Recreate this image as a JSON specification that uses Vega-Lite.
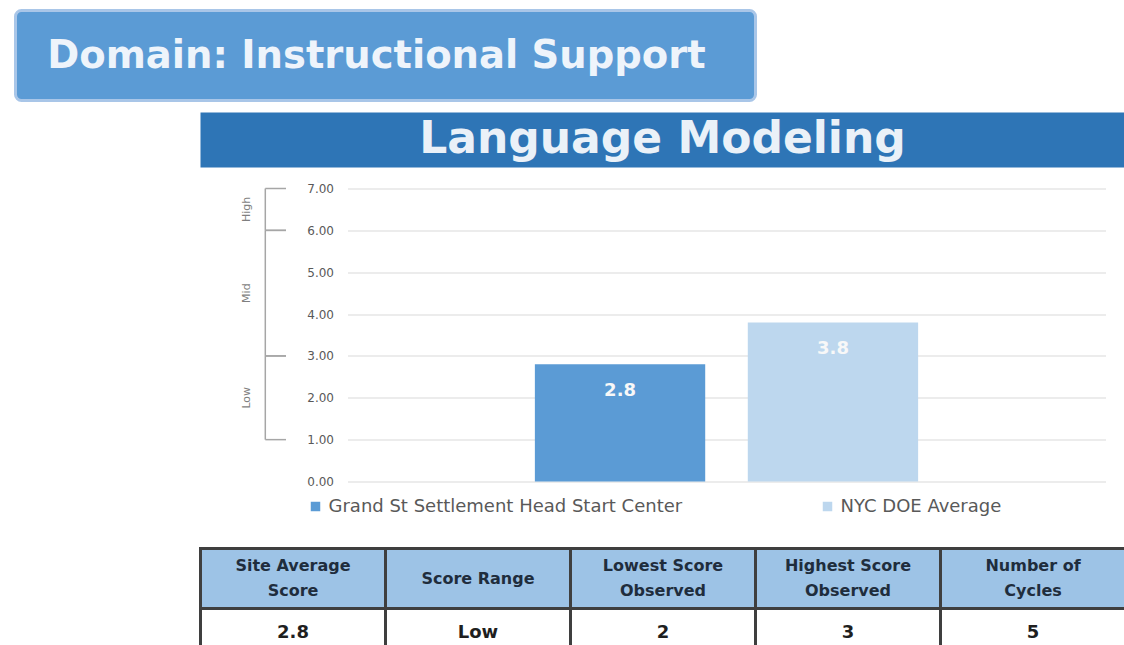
{
  "$schema": "https://vega.github.io/schema/vega-lite/v6.json",
  "padding": {"left": 13.5, "top": 8.5, "right": 0, "bottom": 0},
  "background": "white",
  "config": {"view": {"stroke": null}, "font": "DejaVu Sans"},
  "bounds": "flush",
  "spacing": 12,
  "vconcat": [
    {
      "width": 740,
      "height": 90,
      "view": {"fill": "#5b9bd5", "stroke": "#a9c6e8", "strokeWidth": 3, "cornerRadius": 6},
      "data": {"values": [{"t": "Domain: Instructional Support"}]},
      "mark": {"type": "text", "fontWeight": "bold", "fontSize": 38.5, "fill": "#eef4fb", "dx": -9, "baseline": "middle"},
      "encoding": {"text": {"field": "t"}}
    },
    {
      "bounds": "flush",
      "spacing": 10,
      "hconcat": [
        {
          "width": 175,
          "height": 10,
          "data": {"values": [{}]},
          "mark": {"type": "text"},
          "encoding": {"text": {"value": ""}}
        },
        {
          "bounds": "flush",
          "spacing": 21,
          "vconcat": [
            {
              "width": 924,
              "height": 55,
              "view": {"fill": "#2e75b6", "stroke": null},
              "data": {"values": [{"t": "Language Modeling"}]},
              "mark": {"type": "text", "fontWeight": "bold", "fontSize": 44, "fill": "#eaf1f8", "baseline": "middle"},
              "encoding": {"text": {"field": "t"}}
            },
            {
              "bounds": "flush",
              "spacing": 57,
              "hconcat": [
                {
                  "width": 90,
                  "height": 293,
                  "data": {"values": [
                    {"level": "Low", "lo": 1, "hi": 3, "mid": 2},
                    {"level": "Mid", "lo": 3, "hi": 6, "mid": 4.5},
                    {"level": "High", "lo": 6, "hi": 7, "mid": 6.5}
                  ]},
                  "layer": [
                    {
                      "mark": {"type": "rule", "color": "#a6a6a6", "strokeWidth": 1.5},
                      "encoding": {
                        "x": {"datum": 0.72, "type": "quantitative", "scale": {"domain": [0, 1]}, "axis": null},
                        "y": {"field": "lo", "type": "quantitative", "scale": {"domain": [0, 7]}, "axis": null},
                        "y2": {"field": "hi"}
                      }
                    },
                    {
                      "mark": {"type": "rule", "color": "#a6a6a6", "strokeWidth": 1.5},
                      "encoding": {
                        "x": {"datum": 0.72, "type": "quantitative", "scale": {"domain": [0, 1]}, "axis": null},
                        "x2": {"datum": 0.95},
                        "y": {"field": "lo", "type": "quantitative", "scale": {"domain": [0, 7]}, "axis": null}
                      }
                    },
                    {
                      "mark": {"type": "rule", "color": "#a6a6a6", "strokeWidth": 1.5},
                      "encoding": {
                        "x": {"datum": 0.72, "type": "quantitative", "scale": {"domain": [0, 1]}, "axis": null},
                        "x2": {"datum": 0.95},
                        "y": {"field": "hi", "type": "quantitative", "scale": {"domain": [0, 7]}, "axis": null}
                      }
                    },
                    {
                      "mark": {"type": "text", "angle": 270, "fontSize": 11, "fill": "#7f7f7f", "baseline": "middle", "align": "center"},
                      "encoding": {
                        "x": {"datum": 0.52, "type": "quantitative", "scale": {"domain": [0, 1]}, "axis": null},
                        "y": {"field": "mid", "type": "quantitative", "scale": {"domain": [0, 7]}, "axis": null},
                        "text": {"field": "level"}
                      }
                    }
                  ]
                },
                {
                  "width": 758,
                  "height": 293,
                  "data": {"values": [
                    {"series": "Grand St Settlement Head Start Center", "score": 2.8},
                    {"series": "NYC DOE Average", "score": 3.8}
                  ]},
                  "encoding": {
                    "x": {"field": "series", "type": "nominal", "sort": null, "scale": {"paddingInner": 0.2, "paddingOuter": 0.88}, "axis": null},
                    "y": {
                      "field": "score", "type": "quantitative",
                      "scale": {"domain": [0, 7]},
                      "axis": {"values": [0, 1, 2, 3, 4, 5, 6, 7], "format": ".2f", "grid": true, "gridColor": "#d9d9d9", "domain": false, "ticks": false, "labelPadding": 14, "labelFontSize": 12, "labelColor": "#595959", "title": null}
                    }
                  },
                  "layer": [
                    {
                      "mark": {"type": "bar"},
                      "encoding": {
                        "color": {
                          "field": "series", "type": "nominal", "sort": null,
                          "scale": {"range": ["#5b9bd5", "#bdd7ee"]},
                          "legend": {"orient": "none", "legendX": 291, "legendY": 487, "direction": "horizontal", "title": null, "symbolType": "square", "symbolSize": 90, "labelFontSize": 18, "labelColor": "#595959", "columnPadding": 136, "labelLimit": 600}
                        }
                      }
                    },
                    {
                      "mark": {"type": "text", "dy": 27, "baseline": "middle", "fill": "#f8f8f8", "fontWeight": "bold", "fontSize": 18},
                      "encoding": {"text": {"field": "score", "type": "quantitative", "format": ".1f"}}
                    }
                  ]
                }
              ]
            },
            {
              "width": 10,
              "height": 318,
              "data": {"values": [{}]},
              "mark": {"type": "text"},
              "encoding": {"text": {"value": ""}}
            },
            {
              "width": 925,
              "height": 120,
              "data": {"values": [
                {"col": "site", "row": "header", "label": ["Site Average", "Score"]},
                {"col": "range", "row": "header", "label": ["Score Range"]},
                {"col": "lowest", "row": "header", "label": ["Lowest Score", "Observed"]},
                {"col": "highest", "row": "header", "label": ["Highest Score", "Observed"]},
                {"col": "cycles", "row": "header", "label": ["Number of", "Cycles"]},
                {"col": "site", "row": "value", "label": "2.8"},
                {"col": "range", "row": "value", "label": "Low"},
                {"col": "lowest", "row": "value", "label": "2"},
                {"col": "highest", "row": "value", "label": "3"},
                {"col": "cycles", "row": "value", "label": "5"}
              ]},
              "encoding": {
                "x": {"field": "col", "type": "nominal", "sort": null, "scale": {"paddingInner": 0, "paddingOuter": 0}, "axis": null},
                "y": {"field": "row", "type": "nominal", "sort": ["header", "value"], "scale": {"paddingInner": 0, "paddingOuter": 0}, "axis": null}
              },
              "layer": [
                {
                  "mark": {"type": "rect", "stroke": "#3f3f3f", "strokeWidth": 3},
                  "encoding": {
                    "fill": {"field": "row", "type": "nominal", "scale": {"domain": ["header", "value"], "range": ["#9dc3e6", "#ffffff"]}, "legend": null}
                  }
                },
                {
                  "transform": [{"filter": "datum.row === 'header' && datum.label.length > 1"}],
                  "mark": {"type": "text", "fontWeight": "bold", "fontSize": 16, "fill": "#1f2d3d", "lineHeight": 25, "baseline": "middle", "dy": -12.5},
                  "encoding": {"text": {"field": "label"}}
                },
                {
                  "transform": [{"filter": "datum.row === 'header' && datum.label.length === 1"}],
                  "mark": {"type": "text", "fontWeight": "bold", "fontSize": 16, "fill": "#1f2d3d", "baseline": "middle"},
                  "encoding": {"text": {"field": "label"}}
                },
                {
                  "transform": [{"filter": "datum.row === 'value'"}],
                  "mark": {"type": "text", "fontWeight": "bold", "fontSize": 18, "fill": "#1f1f1f", "baseline": "middle", "dy": -6},
                  "encoding": {"text": {"field": "label"}}
                }
              ]
            }
          ]
        }
      ]
    }
  ]
}
